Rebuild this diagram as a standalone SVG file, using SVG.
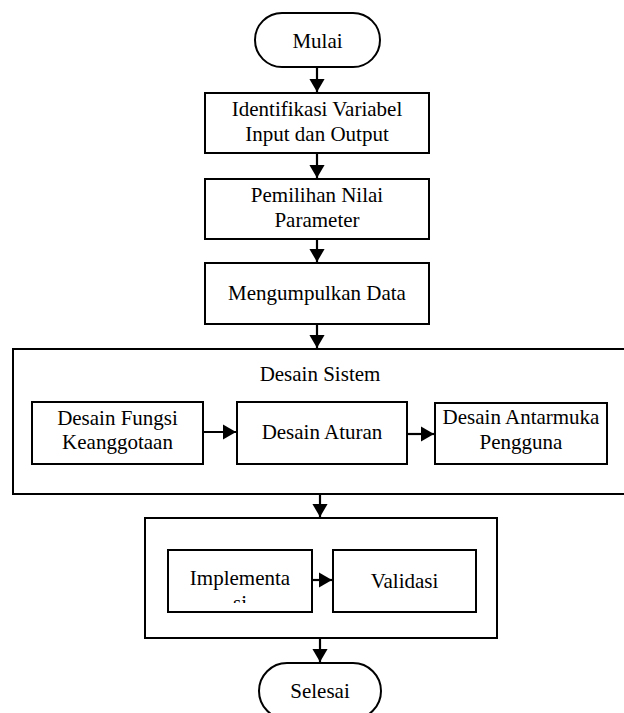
<svg xmlns="http://www.w3.org/2000/svg" width="624" height="713" viewBox="0 0 624 713">
<style>
.b{fill:#fff;stroke:#000;stroke-width:2}
.c{fill:none;stroke:#000;stroke-width:2.2}
.t{font-family:'Liberation Serif','Times New Roman',Tinos,'DejaVu Serif',serif;font-size:21px;fill:#000;text-anchor:middle}
</style>
<defs>
<marker id="ah" markerWidth="7" markerHeight="7" refX="6" refY="3.5" orient="auto" markerUnits="strokeWidth">
<path d="M0,0 L6,3.5 L0,7 Z" fill="#000"/>
</marker>
<clipPath id="clipImp"><rect x="168" y="550" width="144" height="53"/></clipPath>
</defs>
<rect width="624" height="713" fill="#fff"/>
<g class="t" font-family="Liberation Serif, serif" font-size="21" text-anchor="middle">
<g id="mulai"><rect class="b" x="255" y="13" width="125" height="54" rx="27"/><text x="317.5" y="48">Mulai</text></g>
<g id="identifikasi"><rect class="b" x="205" y="93" width="224" height="60"/><text x="317" y="116">Identifikasi Variabel</text><text x="317" y="141">Input dan Output</text></g>
<g id="pemilihan"><rect class="b" x="205" y="179" width="224" height="60"/><text x="317" y="202">Pemilihan Nilai</text><text x="317" y="227">Parameter</text></g>
<g id="mengumpulkan"><rect class="b" x="205" y="263" width="224" height="61"/><text x="317" y="300">Mengumpulkan Data</text></g>
<g id="desain-sistem"><rect class="b" x="13" y="349" width="620" height="145"/><text x="320" y="381">Desain Sistem</text></g>
<g id="fungsi"><rect class="b" x="32" y="402" width="171" height="62"/><text x="117.5" y="425">Desain Fungsi</text><text x="117.5" y="449">Keanggotaan</text></g>
<g id="aturan"><rect class="b" x="237" y="402" width="170" height="62"/><text x="322" y="439">Desain Aturan</text></g>
<g id="antarmuka"><rect class="b" x="435" y="403" width="172" height="61"/><text x="521" y="424">Desain Antarmuka</text><text x="521" y="449">Pengguna</text></g>
<g id="implementasi-group"><rect class="b" x="145" y="518" width="352" height="120"/></g>
<g id="implementasi"><rect class="b" x="168" y="550" width="144" height="62"/><text x="240" y="585">Implementa</text><text x="240" y="610" clip-path="url(#clipImp)">si</text></g>
<g id="validasi"><rect class="b" x="333" y="550" width="143" height="62"/><text x="404.5" y="588">Validasi</text></g>
<g id="selesai"><rect class="b" x="259" y="663" width="122" height="56" rx="28"/><text x="320" y="698">Selesai</text></g>
</g>
<g id="connectors">
<line class="c" x1="317" y1="67" x2="317" y2="92" marker-end="url(#ah)"/>
<line class="c" x1="317" y1="153" x2="317" y2="178" marker-end="url(#ah)"/>
<line class="c" x1="317" y1="239" x2="317" y2="262" marker-end="url(#ah)"/>
<line class="c" x1="317" y1="324" x2="317" y2="348" marker-end="url(#ah)"/>
<line class="c" x1="203" y1="432" x2="236" y2="432" marker-end="url(#ah)"/>
<line class="c" x1="407" y1="434" x2="434" y2="434" marker-end="url(#ah)"/>
<line class="c" x1="320" y1="494" x2="320" y2="517" marker-end="url(#ah)"/>
<line class="c" x1="312" y1="580" x2="332" y2="580" marker-end="url(#ah)"/>
<line class="c" x1="320" y1="638" x2="320" y2="662" marker-end="url(#ah)"/>
</g>
</svg>
